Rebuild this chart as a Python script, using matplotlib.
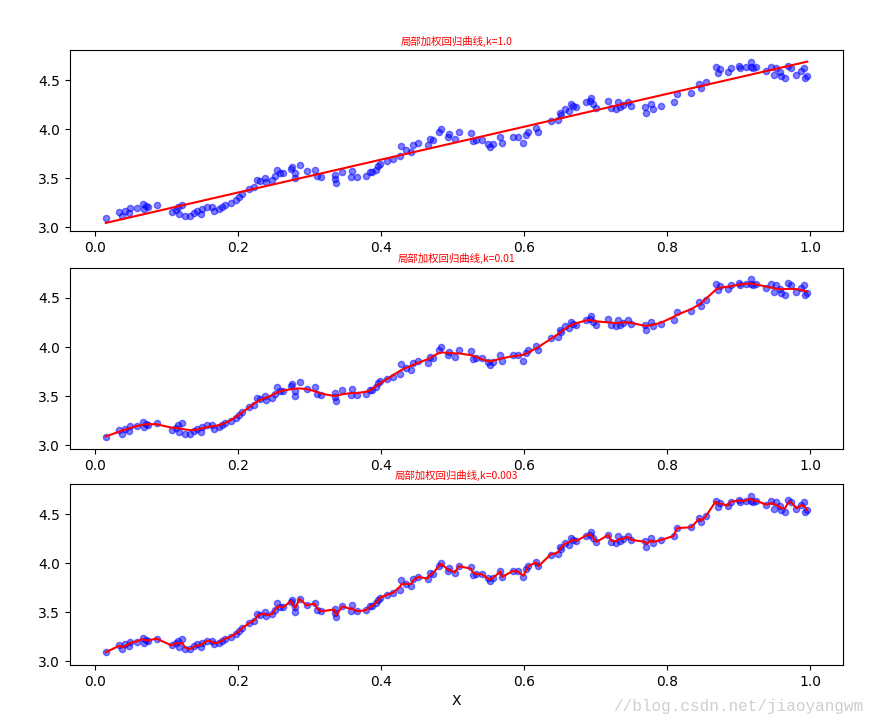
import numpy as np
import matplotlib
matplotlib.use("Agg")
import matplotlib.pyplot as plt

plt.rcParams['font.family'] = ['DejaVu Sans']

x_vals = [0.015, 0.034, 0.038, 0.042, 0.047, 0.049, 0.058, 0.067, 0.069, 0.071,
          0.074, 0.086, 0.107, 0.113, 0.116, 0.118, 0.122, 0.126, 0.133, 0.139,
          0.143, 0.148, 0.150, 0.157, 0.163, 0.167, 0.173, 0.178, 0.182, 0.190,
          0.197, 0.202, 0.206, 0.216, 0.223, 0.227, 0.230, 0.237, 0.239, 0.248,
          0.252, 0.255, 0.258, 0.263, 0.274, 0.276, 0.279, 0.280, 0.286, 0.296,
          0.307, 0.311, 0.316, 0.335, 0.336, 0.337, 0.346, 0.358, 0.359, 0.366,
          0.379, 0.384, 0.388, 0.393, 0.396, 0.399, 0.409, 0.417, 0.427, 0.428,
          0.435, 0.442, 0.445, 0.452, 0.465, 0.468, 0.472, 0.481, 0.484, 0.494,
          0.495, 0.503, 0.509, 0.526, 0.528, 0.533, 0.541, 0.549, 0.552, 0.556,
          0.567, 0.569, 0.584, 0.591, 0.599, 0.603, 0.606, 0.617, 0.620, 0.637,
          0.648, 0.650, 0.652, 0.657, 0.663, 0.665, 0.669, 0.673, 0.686, 0.692,
          0.693, 0.696, 0.701, 0.718, 0.722, 0.729, 0.732, 0.734, 0.738, 0.745,
          0.750, 0.769, 0.771, 0.778, 0.780, 0.792, 0.809, 0.814, 0.834, 0.845,
          0.848, 0.854, 0.868, 0.871, 0.874, 0.885, 0.889, 0.901, 0.902, 0.910,
          0.917, 0.918, 0.920, 0.925, 0.939, 0.946, 0.949, 0.952, 0.958, 0.959,
          0.965, 0.969, 0.973, 0.981, 0.988, 0.992, 0.993, 0.996]
y_vals = [3.09, 3.16, 3.12, 3.17, 3.15, 3.20, 3.20, 3.24, 3.19, 3.22,
          3.21, 3.23, 3.16, 3.18, 3.21, 3.14, 3.23, 3.12, 3.12, 3.15,
          3.17, 3.14, 3.19, 3.21, 3.21, 3.17, 3.19, 3.21, 3.23, 3.25,
          3.28, 3.31, 3.34, 3.39, 3.41, 3.48, 3.47, 3.50, 3.46, 3.48,
          3.52, 3.59, 3.55, 3.55, 3.60, 3.62, 3.55, 3.50, 3.64, 3.57,
          3.59, 3.52, 3.51, 3.53, 3.49, 3.45, 3.56, 3.51, 3.57, 3.51,
          3.52, 3.56, 3.56, 3.59, 3.63, 3.65, 3.68, 3.70, 3.73, 3.83,
          3.79, 3.77, 3.84, 3.86, 3.84, 3.90, 3.89, 3.97, 4.00, 3.92,
          3.95, 3.90, 3.97, 3.96, 3.88, 3.89, 3.89, 3.85, 3.82, 3.85,
          3.92, 3.86, 3.92, 3.92, 3.86, 3.94, 3.97, 4.01, 3.97, 4.09,
          4.10, 4.17, 4.15, 4.21, 4.19, 4.26, 4.24, 4.23, 4.28, 4.29,
          4.32, 4.26, 4.22, 4.29, 4.22, 4.21, 4.28, 4.23, 4.25, 4.28,
          4.24, 4.23, 4.17, 4.26, 4.21, 4.24, 4.28, 4.36, 4.37, 4.46,
          4.42, 4.48, 4.64, 4.58, 4.62, 4.59, 4.63, 4.65, 4.63, 4.64,
          4.69, 4.64, 4.63, 4.64, 4.60, 4.64, 4.56, 4.63, 4.59, 4.55,
          4.53, 4.65, 4.63, 4.56, 4.60, 4.63, 4.53, 4.55]

k_values = [1.0, 0.01, 0.003]
titles = ['局部加权回归曲线,k=1.0', '局部加权回归曲线,k=0.01', '局部加权回归曲线,k=0.003']


def lwlr_all(xs, ys, k):
    xs = np.asarray(xs)
    ys = np.asarray(ys)
    X = np.column_stack([np.ones_like(xs), xs])
    out = np.zeros_like(xs)
    for i, xp in enumerate(xs):
        w = np.exp(-((xs - xp) ** 2) / (2.0 * k ** 2))
        sw = np.sqrt(w)
        coef, *_ = np.linalg.lstsq(X * sw[:, None], ys * sw, rcond=None)
        out[i] = coef[0] + coef[1] * xp
    return out


fig = plt.figure(figsize=(8.72, 7.27), dpi=100)
positions = [[0.0803, 0.682, 0.8864, 0.249],
             [0.0803, 0.382, 0.8864, 0.250],
             [0.0803, 0.0853, 0.8864, 0.2487]]

order = np.argsort(x_vals)
xs_sorted = np.asarray(x_vals)[order]
for pos, k, t in zip(positions, k_values, titles):
    ax = fig.add_axes(pos)
    yhat = lwlr_all(x_vals, y_vals, k)
    ax.plot(xs_sorted, yhat[order], c='red', lw=1.5)
    ax.scatter(x_vals, y_vals, s=20, c='blue', alpha=0.5)
    ax.set_xlim(-0.035, 1.046)
    ax.set_ylim(2.96, 4.81)
    ax.set_yticks([3.0, 3.5, 4.0, 4.5])
    ax.set_xticks([0.0, 0.2, 0.4, 0.6, 0.8, 1.0])
    ax.set_title(t, fontsize=7.5, color='red', pad=4,
                 family=['Noto Sans CJK SC', 'DejaVu Sans'])

ax.set_xlabel('X')

fig.text(0.99, 0.018, '//blog.csdn.net/jiaoyangwm', ha='right', va='bottom',
         fontsize=11.5, color='#cfcfcf', family=['Liberation Mono', 'DejaVu Sans Mono'])

fig.savefig('out.png', dpi=100)
